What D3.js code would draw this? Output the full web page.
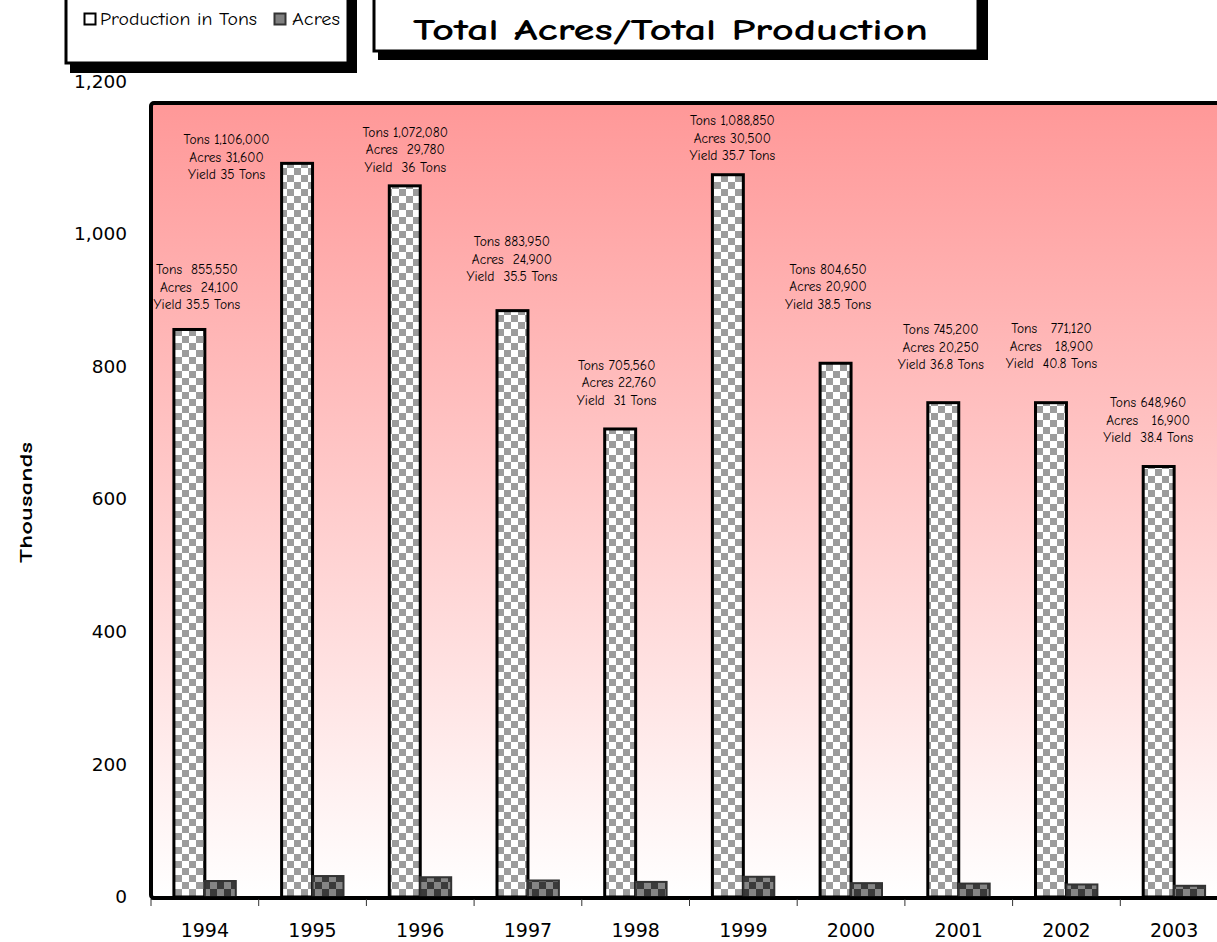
<!DOCTYPE html>
<html>
<head>
<meta charset="utf-8">
<script src="https://cdn.jsdelivr.net/npm/d3@7"></script>
<style>
  body { margin: 0; background: #fff; }
  svg { display: block; }
  text { white-space: pre; }
</style>
</head>
<body>
<svg width="1217" height="942"></svg>
<script>
const years = ["1994","1995","1996","1997","1998","1999","2000","2001","2002","2003"];
// bar heights in thousands, as drawn
const tons  = [855.55, 1106, 1072.08, 883.95, 705.56, 1088.85, 804.65, 745.2, 745.2, 648.96];
const acres = [24.1, 31.6, 29.78, 24.9, 22.76, 30.5, 20.9, 20.25, 18.9, 16.9];
const yTicks = [0, 200, 400, 600, 800, 1000, 1200];

// text boxes above the bars
const noteLines = [
  ["Tons  855,550", " Acres  24,100", "Yield 35.5 Tons"],
  ["Tons 1,106,000", "Acres 31,600", "Yield 35 Tons"],
  ["Tons 1,072,080", "Acres  29,780", "Yield  36 Tons"],
  ["Tons 883,950", "Acres  24,900", "Yield  35.5 Tons"],
  ["Tons 705,560", " Acres 22,760", "Yield  31 Tons"],
  ["Tons 1,088,850", "Acres 30,500", "Yield 35.7 Tons"],
  ["Tons 804,650", "Acres 20,900", "Yield 38.5 Tons"],
  ["Tons 745,200", "Acres 20,250", "Yield 36.8 Tons"],
  ["Tons   771,120", "Acres   18,900", "Yield  40.8 Tons"],
  ["Tons 648,960", "Acres   16,900", "Yield  38.4 Tons"]
];
// offsets of each text box from band centre / bar top (px)
const noteShift = [[-8,-60],[-86,-24],[-15,-54],[-16,-69],[-19,-64],[-11,-54],[-23,-94],[-18,-73],[-15,-74],[-26,-64]];

const comic = '"Comic Sans MS", "Comic Neue", "DejaVu Sans", sans-serif';
const plain = '"DejaVu Sans", Verdana, sans-serif';

const svg = d3.select("svg");
const plotLeft = 151, plotRight = 1228, plotTop = 101, plotBottom = 897;

const x = d3.scaleBand().domain(years).range([plotLeft, plotRight]);
const xs = d3.scaleBand().domain(["tons","acres"]).range([0, x.bandwidth()]).paddingOuter(0.74);
const y = d3.scaleLinear().domain([0, 1200]).range([plotBottom, plotTop]);

const defs = svg.append("defs");
const grad = defs.append("linearGradient").attr("id","bg").attr("x1",0).attr("y1",0).attr("x2",0).attr("y2",1);
grad.append("stop").attr("offset","0%").attr("stop-color","#ff9898");
grad.append("stop").attr("offset","100%").attr("stop-color","#ffffff");

function checker(id, a, b, s) {
  const p = defs.append("pattern").attr("id", id)
    .attr("patternUnits","userSpaceOnUse").attr("width", s*2).attr("height", s*2);
  p.append("rect").attr("width", s*2).attr("height", s*2).attr("fill", a);
  p.append("rect").attr("width", s).attr("height", s).attr("fill", b);
  p.append("rect").attr("x", s).attr("y", s).attr("width", s).attr("height", s).attr("fill", b);
}
checker("tonsPat", "#ffffff", "#9c9c9c", 7);
checker("acresPat", "#3a3a3a", "#858585", 7);

defs.append("clipPath").attr("id","plotClip").append("rect")
  .attr("x", plotLeft + 1).attr("y", plotTop + 4).attr("width", plotRight - plotLeft).attr("height", plotBottom - plotTop);

// legend box
svg.append("rect").attr("x",70).attr("y",-20).attr("width",287).attr("height",93).attr("fill","#000");
svg.append("rect").attr("x",66).attr("y",-20).attr("width",282).attr("height",83)
  .attr("fill","#fff").attr("stroke","#000").attr("stroke-width",3);
svg.append("rect").attr("x",84.5).attr("y",13.5).attr("width",11).attr("height",11)
  .attr("fill","#fff").attr("stroke","#000").attr("stroke-width",2);
svg.append("text").attr("x",100).attr("y",25).attr("font-family",comic).attr("font-size",17)
  .attr("textLength",157).attr("lengthAdjust","spacingAndGlyphs").text("Production in Tons");
svg.append("rect").attr("x",274.5).attr("y",13.5).attr("width",11).attr("height",11)
  .attr("fill","#808080").attr("stroke","#333").attr("stroke-width",2);
svg.append("text").attr("x",292).attr("y",25).attr("font-family",comic).attr("font-size",17)
  .attr("textLength",48).attr("lengthAdjust","spacingAndGlyphs").text("Acres");

// title box
svg.append("rect").attr("x",378).attr("y",-20).attr("width",610).attr("height",80).attr("fill","#000");
svg.append("rect").attr("x",374).attr("y",-20).attr("width",604).attr("height",71)
  .attr("fill","#fff").attr("stroke","#000").attr("stroke-width",3);
svg.append("text").attr("x",413).attr("y",40)
  .attr("font-family",comic).attr("font-weight","bold").attr("font-size",31)
  .attr("textLength",515).attr("lengthAdjust","spacingAndGlyphs")
  .text("Total Acres/Total Production");

// plot frame
svg.append("rect").attr("x",plotLeft).attr("y",plotTop + 2).attr("width",plotRight - plotLeft + 10).attr("height",plotBottom - plotTop - 1)
  .attr("rx",3).attr("fill","url(#bg)").attr("stroke","#000").attr("stroke-width",4);

// bars
const g = svg.append("g");
g.selectAll(".tons").data(years).enter().append("rect")
  .attr("class","tons")
  .attr("x", (d) => x(d) + xs("tons"))
  .attr("y", (d, i) => y(tons[i]))
  .attr("width", xs.bandwidth())
  .attr("height", (d, i) => plotBottom - y(tons[i]))
  .attr("fill","url(#tonsPat)").attr("stroke","#000").attr("stroke-width",3);

g.selectAll(".acres").data(years).enter().append("rect")
  .attr("class","acres")
  .attr("x", (d) => x(d) + xs("acres"))
  .attr("y", (d, i) => y(acres[i]))
  .attr("width", xs.bandwidth())
  .attr("height", (d, i) => plotBottom - y(acres[i]))
  .attr("fill","url(#acresPat)").attr("stroke","#333").attr("stroke-width",2);

// x axis
svg.append("line").attr("x1",plotLeft).attr("x2",1217).attr("y1",plotBottom + 1).attr("y2",plotBottom + 1)
  .attr("stroke","#000").attr("stroke-width",3.5);
svg.selectAll(".tick-x").data(years).enter().append("line")
  .attr("x1", (d) => x(d)).attr("x2", (d) => x(d))
  .attr("y1", plotBottom + 2).attr("y2", plotBottom + 9)
  .attr("stroke","#333").attr("stroke-width",1);
svg.selectAll(".xlab").data(years).enter().append("text")
  .attr("x", (d) => x(d) + x.bandwidth() / 2).attr("y", 937)
  .attr("text-anchor","middle").attr("font-family",plain).attr("font-size",19)
  .text((d) => d);

// y axis labels
const fmt = d3.format(",");
svg.selectAll(".ylab").data(yTicks).enter().append("text")
  .attr("x", 127)
  .attr("y", (d) => d === 1200 ? y(d) - 19 : y(d))
  .attr("dy","0.35em")
  .attr("text-anchor","end").attr("font-family",plain).attr("font-size",18.5)
  .text((d) => fmt(d));

svg.append("text").attr("transform","translate(32,563) rotate(-90)")
  .attr("font-family",comic).attr("font-weight","bold").attr("font-size",19)
  .attr("textLength",121).attr("lengthAdjust","spacingAndGlyphs")
  .text("Thousands");

// notes
const notes = svg.append("g").attr("clip-path","url(#plotClip)");
years.forEach(function(yr, i) {
  const cx = x(yr) + x.bandwidth() / 2 + noteShift[i][0];
  const ty = y(tons[i]) + noteShift[i][1];
  noteLines[i].forEach(function(line, j) {
    notes.append("text")
      .attr("x", cx).attr("y", ty + j * 17.5).attr("dy","0.35em")
      .attr("text-anchor","middle").attr("font-family",comic).attr("font-size",13.5)
      .text(line);
  });
});
</script>
</body>
</html>
